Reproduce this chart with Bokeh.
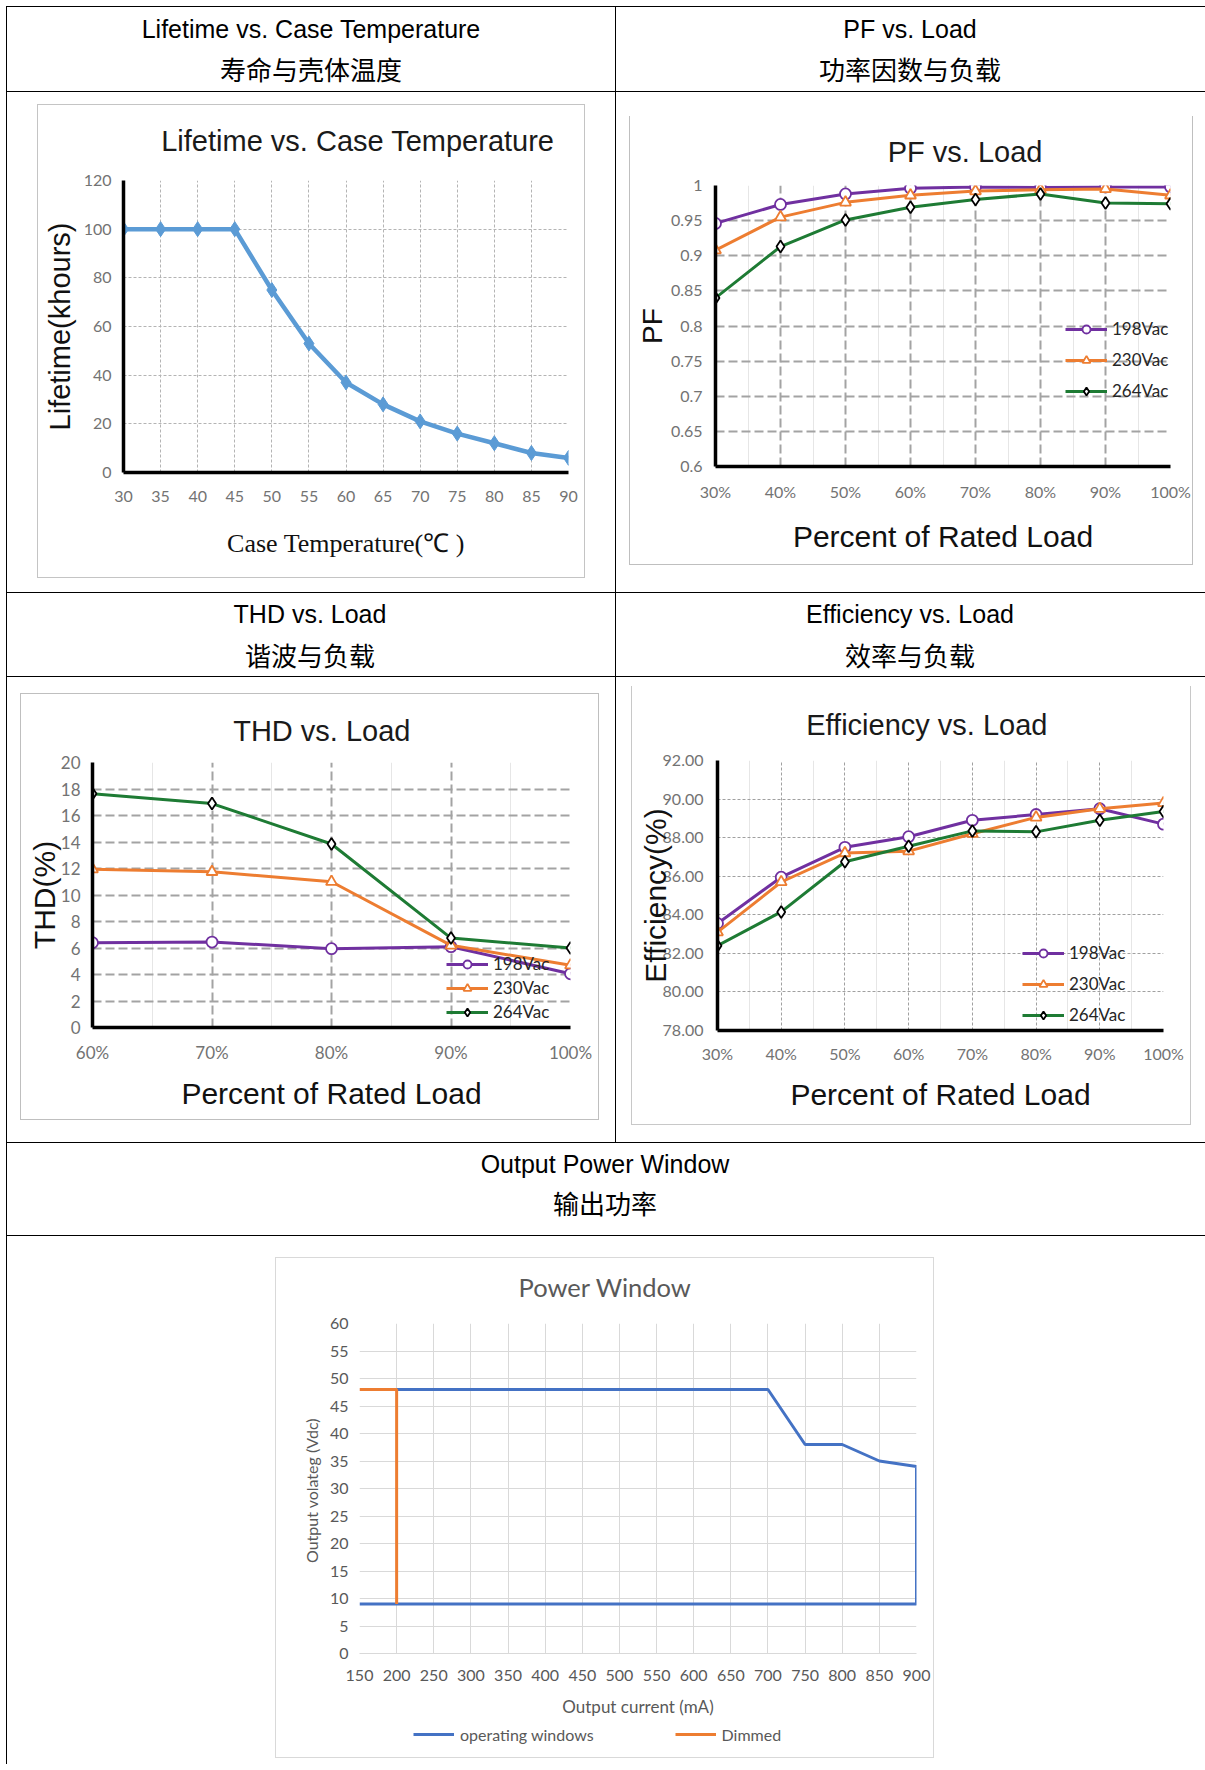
from bokeh.plotting import figure
from bokeh.models import (Range1d, FixedTicker, Legend, LegendItem, Div, Spacer, Title,
                          CustomJSTickFormatter, NumeralTickFormatter)
from bokeh.layouts import row, column
from bokeh.embed import file_html
from bokeh.resources import INLINE

# ---------------- data ----------------
case_temp = [30, 35, 40, 45, 50, 55, 60, 65, 70, 75, 80, 85, 90]
lifetime_kh = [100, 100, 100, 100, 75, 53, 37, 28, 21, 16, 12, 8, 6]
life_ticks = [0, 20, 40, 60, 80, 100, 120]

load_pct = [30, 40, 50, 60, 70, 80, 90, 100]
load_minor = [35, 45, 55, 65, 75, 85, 95]
series_names = ["198Vac", "230Vac", "264Vac"]

pf_198 = [0.946, 0.973, 0.988, 0.996, 0.998, 0.997, 0.998, 0.998]
pf_230 = [0.908, 0.955, 0.976, 0.986, 0.992, 0.994, 0.995, 0.986]
pf_264 = [0.840, 0.913, 0.951, 0.969, 0.980, 0.988, 0.975, 0.974]
pf_ticks = [0.6, 0.65, 0.7, 0.75, 0.8, 0.85, 0.9, 0.95, 1.0]

thd_load = [60, 70, 80, 90, 100]
thd_minor = [65, 75, 85, 95]
thd_198 = [6.4, 6.45, 5.95, 6.1, 4.05]
thd_230 = [11.95, 11.75, 11.0, 6.2, 4.7]
thd_264 = [17.65, 16.9, 13.85, 6.75, 6.0]
thd_ticks = [0, 2, 4, 6, 8, 10, 12, 14, 16, 18, 20]

eff_198 = [83.55, 85.95, 87.5, 88.05, 88.9, 89.2, 89.5, 88.7]
eff_230 = [83.1, 85.7, 87.2, 87.3, 88.2, 89.05, 89.5, 89.8]
eff_264 = [82.4, 84.15, 86.75, 87.55, 88.35, 88.3, 88.9, 89.35]
eff_ticks = [78, 80, 82, 84, 86, 88, 90, 92]

pw_current_ticks = [150, 200, 250, 300, 350, 400, 450, 500, 550, 600, 650, 700, 750, 800, 850, 900]
pw_voltage_ticks = [0, 5, 10, 15, 20, 25, 30, 35, 40, 45, 50, 55, 60]
op_current = [200, 700, 750, 800, 850, 900, 900, 150]
op_voltage = [48, 48, 38, 38, 35, 34, 9, 9]
dim_current = [150, 200, 200]
dim_voltage = [48, 48, 9]

PURPLE, ORANGE, GREEN = "#7030a0", "#ed7d31", "#1e7b34"
BLUE = "#4472c4"
TICK_GRAY = "#737373"
SANS = "Liberation Sans"
NUM = "Lato"


# ---------------- helpers ----------------
def bar(w, h, color="#000000"):
    return Div(text="", width=w, height=h, margin=0, styles={"background-color": color})


def spacer(w, h):
    return Spacer(width=w, height=h, margin=0)


def header(w, h, en, zh, cx, y1, y2):
    iw = 2 * cx
    html = (
        f"<div style='position:relative;width:{w}px;height:{h}px;'>"
        f"<div style='position:absolute;left:0;top:{y1 - 16}px;width:{iw}px;height:32px;line-height:32px;"
        f"text-align:center;white-space:nowrap;font-family:\"Liberation Sans\",Arial,sans-serif;"
        f"font-size:25px;color:#000;'>{en}</div>"
        f"<div style='position:absolute;left:0;top:{y2 - 17}px;width:{iw}px;height:34px;line-height:34px;"
        f"text-align:center;white-space:nowrap;font-family:\"Noto Sans CJK SC\",sans-serif;"
        f"font-size:26px;color:#000;'>{zh}</div></div>"
    )
    return Div(text=html, width=w, height=h, margin=0)


def framed(p, w, h, color="#c0c0c0", top_color=None):
    tc = color if top_color is None else top_color
    return column([bar(w, 1, tc),
                   row([bar(1, h - 2, color), p, bar(1, h - 2, color)]),
                   bar(w, 1, color)])


def cell(w, h, content, tx, ty, cw, ch):
    return column([spacer(w, ty),
                   row([spacer(tx, ch), content, spacer(w - tx - cw, ch)]),
                   spacer(w, h - ty - ch)])


def base_fig(w, h, left, top, fw, fh, xr, yr):
    iw, ih = w - 2, h - 2
    p = figure(width=iw, height=ih,
               min_border_left=left, min_border_right=iw - left - fw,
               min_border_top=top, min_border_bottom=ih - top - fh,
               x_range=Range1d(*xr), y_range=Range1d(*yr),
               toolbar_location=None, tools="", output_backend="svg")
    p.outline_line_color = None
    p.background_fill_color = "white"
    p.border_fill_color = "white"
    return p


def style_axes(p, tick_size, tick_color, axis_font, axis_size, axis_color,
               line_color, line_width, tick_font=NUM):
    for ax in (p.xaxis[0], p.yaxis[0]):
        ax.axis_line_color = line_color
        ax.axis_line_width = line_width
        ax.major_tick_line_color = None
        ax.minor_tick_line_color = None
        ax.major_tick_out = 0
        ax.major_tick_in = 0
        ax.minor_tick_out = 0
        ax.minor_tick_in = 0
        ax.major_label_text_font = tick_font
        ax.major_label_text_font_size = tick_size
        ax.major_label_text_color = tick_color
        ax.axis_label_text_font = axis_font
        ax.axis_label_text_font_size = axis_size
        ax.axis_label_text_color = axis_color
        ax.axis_label_text_font_style = "normal"


def add_title(p, text, font, size, color, align, offset, gap):
    # an invisible spacer title next to the frame lifts the real title
    p.add_layout(Title(text=" ", text_font_size="2px", text_color="white",
                       standoff=max(int(round(gap - 4)), 0)), "above")
    p.add_layout(Title(text=text, text_font=font, text_font_size=size, text_font_style="normal",
                       text_color=color, align=align, offset=offset, standoff=0), "above")


def make_legend(items, loc, spacing, size="17px", orientation="vertical", font=NUM, color="#262626",
                glyph_width=42, label_standoff=5):
    return Legend(items=items, location=loc, orientation=orientation, spacing=spacing,
                  padding=0, margin=0, border_line_color=None, background_fill_alpha=0,
                  glyph_width=glyph_width, glyph_height=20, label_height=20,
                  label_standoff=label_standoff, label_text_font=font,
                  label_text_font_size=size, label_text_color=color)


pct_fmt = CustomJSTickFormatter(code="return tick + '%'")


def load_series(p, xs, ys_list, lw=3):
    specs = [(PURPLE, "circle", PURPLE, 11), (ORANGE, "triangle", ORANGE, 11), (GREEN, "diamond", "#000000", 12)]
    items = []
    for (col, mk, edge, sz), ys, name in zip(specs, ys_list, series_names):
        ln = p.line(xs, ys, line_color=col, line_width=lw)
        sc = p.scatter(xs, ys, marker=mk, size=sz, fill_color="white", line_color=edge, line_width=1.8)
        items.append(LegendItem(label=name, renderers=[ln, sc]))
    return items


# ---------------- chart 1: lifetime ----------------
p1 = base_fig(548, 474, 85, 75, 445, 292, (30, 90), (0, 120))
style_axes(p1, "16px", TICK_GRAY, SANS, "29px", "#111111", "#000000", 3.5)
add_title(p1, "Lifetime vs. Case Temperature", SANS, "29px", "#1a1a1a", "right", 14, 23.5)
p1.xaxis.ticker = FixedTicker(ticks=case_temp)
p1.yaxis.ticker = FixedTicker(ticks=life_ticks)
p1.xaxis.axis_label = "Case Temperature(\u2103 )"
p1.xaxis.axis_label_text_font = "Liberation Serif"
p1.xaxis.axis_label_text_font_size = "26px"
p1.yaxis.axis_label = "Lifetime(khours)"
p1.xaxis.major_label_standoff = 18
p1.xaxis.axis_label_standoff = 24
p1.yaxis.major_label_standoff = 12
p1.yaxis.axis_label_standoff = 5
for g in (p1.xgrid[0], p1.ygrid[0]):
    g.grid_line_color = "#b4b4b4"
    g.grid_line_dash = "3 2"
    g.grid_line_width = 1
p1.line(case_temp, lifetime_kh, line_color="#5b9bd5", line_width=4.5)
p1.scatter(case_temp, lifetime_kh, marker="diamond", size=15, fill_color="#5b9bd5", line_color="#5b9bd5")

# ---------------- chart 2: PF ----------------
p2 = base_fig(564, 450, 85, 69, 455, 281, (30, 100), (0.6, 1.0))
style_axes(p2, "16px", TICK_GRAY, SANS, "30px", "#111111", "#000000", 3.5)
add_title(p2, "PF vs. Load", SANS, "29px", "#1a1a1a", "right", 128, 18.5)
p2.xaxis.ticker = FixedTicker(ticks=load_pct, minor_ticks=load_minor)
p2.yaxis.ticker = FixedTicker(ticks=pf_ticks)
p2.xaxis.formatter = pct_fmt
p2.yaxis.formatter = CustomJSTickFormatter(code="return String(Math.round(tick*100)/100)")
p2.xaxis.axis_label = "Percent of Rated Load"
p2.yaxis.axis_label = "PF"
p2.yaxis.axis_label_text_font_size = "28px"
p2.xaxis.major_label_standoff = 15
p2.xaxis.axis_label_standoff = 16
p2.yaxis.major_label_standoff = 13
p2.yaxis.axis_label_standoff = 0
for g in (p2.xgrid[0], p2.ygrid[0]):
    g.grid_line_color = "#a3a3a3"
    g.grid_line_dash = "9 4"
    g.grid_line_width = 2
p2.xgrid[0].minor_grid_line_color = "#e6e6e6"
it2 = load_series(p2, load_pct, [pf_198, pf_230, pf_264])
p2.add_layout(make_legend(it2, (350, 65), 10))

# ---------------- chart 3: THD ----------------
p3 = base_fig(579, 427, 71, 68, 478, 265, (60, 100), (0, 20))
style_axes(p3, "17px", TICK_GRAY, SANS, "30px", "#111111", "#000000", 3.5)
add_title(p3, "THD vs. Load", SANS, "29px", "#1a1a1a", "right", 160, 15.5)
p3.xaxis.ticker = FixedTicker(ticks=thd_load, minor_ticks=thd_minor)
p3.yaxis.ticker = FixedTicker(ticks=thd_ticks)
p3.xaxis.formatter = pct_fmt
p3.xaxis.axis_label = "Percent of Rated Load"
p3.yaxis.axis_label = "THD(%)"
p3.xaxis.major_label_standoff = 14
p3.xaxis.axis_label_standoff = 11
p3.yaxis.major_label_standoff = 12
p3.yaxis.axis_label_standoff = -3
for g in (p3.xgrid[0], p3.ygrid[0]):
    g.grid_line_color = "#a3a3a3"
    g.grid_line_dash = "9 4"
    g.grid_line_width = 2
p3.xgrid[0].minor_grid_line_color = "#e6e6e6"
it3 = load_series(p3, thd_load, [thd_198, thd_230, thd_264])
p3.add_layout(make_legend(it3, (354, 5), 3))

# ---------------- chart 4: efficiency ----------------
p4 = base_fig(560, 440, 85, 74, 446, 270, (30, 100), (78, 92))
style_axes(p4, "16px", TICK_GRAY, SANS, "30px", "#111111", "#000000", 3.5)
add_title(p4, "Efficiency vs. Load", SANS, "29px", "#1a1a1a", "right", 116, 19.5)
p4.xaxis.ticker = FixedTicker(ticks=load_pct, minor_ticks=load_minor)
p4.yaxis.ticker = FixedTicker(ticks=eff_ticks)
p4.xaxis.formatter = pct_fmt
p4.yaxis.formatter = NumeralTickFormatter(format="0.00")
p4.xaxis.axis_label = "Percent of Rated Load"
p4.yaxis.axis_label = "Efficiency(%)"
p4.xaxis.major_label_standoff = 13
p4.xaxis.axis_label_standoff = 12
p4.yaxis.major_label_standoff = 14
p4.yaxis.axis_label_standoff = -12
for g in (p4.xgrid[0], p4.ygrid[0]):
    g.grid_line_color = "#a0a0a0"
    g.grid_line_dash = "3 2"
    g.grid_line_width = 1
p4.xgrid[0].minor_grid_line_color = "#e6e6e6"
it4 = load_series(p4, load_pct, [eff_198, eff_230, eff_264])
p4.add_layout(make_legend(it4, (305, 5), 10))

# ---------------- chart 5: power window ----------------
P5W, P5H, LEGH = 659, 501, 35
p5 = base_fig(P5W, P5H - LEGH, 83, 65, 557, 330, (150, 900), (0, 60))
style_axes(p5, "16px", "#595959", NUM, "17px", "#595959", "#d9d9d9", 1)
p5.yaxis.axis_line_color = None
p5.yaxis.axis_label_text_font_size = "16px"
add_title(p5, "Power Window", NUM, "25.5px", "#595959", "left", 159, 22.5)
p5.xaxis.ticker = FixedTicker(ticks=pw_current_ticks)
p5.yaxis.ticker = FixedTicker(ticks=pw_voltage_ticks)
p5.xaxis.axis_label = "Output current (mA)"
p5.yaxis.axis_label = "Output  volateg (Vdc)"
p5.xaxis.major_label_standoff = 16
p5.xaxis.axis_label_standoff = 12
p5.yaxis.major_label_standoff = 11
p5.yaxis.axis_label_standoff = 6
for g in (p5.xgrid[0], p5.ygrid[0]):
    g.grid_line_color = "#d9d9d9"
    g.grid_line_width = 1
p5.line(op_current, op_voltage, line_color=BLUE, line_width=3)
p5.line(dim_current, dim_voltage, line_color=ORANGE, line_width=3)

# legend strip under the power-window plot (its lines fall outside this strip's ranges)
leg5 = figure(width=P5W - 2, height=LEGH, min_border=0, x_axis_location=None, y_axis_location=None,
              x_range=Range1d(0, 1), y_range=Range1d(0, 1),
              toolbar_location=None, tools="", output_backend="svg")
leg5.outline_line_color = None
leg5.grid.visible = False
op_l = leg5.line(op_current, op_voltage, line_color=BLUE, line_width=3)
dm_l = leg5.line(dim_current, dim_voltage, line_color=ORANGE, line_width=3)
leg5.add_layout(make_legend([LegendItem(label="operating windows", renderers=[op_l]),
                             LegendItem(label="Dimmed", renderers=[dm_l])],
                            (54, 13), 81, size="16px", orientation="horizontal", color="#595959",
                            glyph_width=41, label_standoff=6))
p5_block = column([p5, leg5])

# ---------------- table layout ----------------
LW, RW, FW = 608, 589, 1198
TW = 1 + LW + 1 + RW
H1, C1, H2, C2, H3, C3 = 84, 500, 83, 465, 92, 528

table = column([
    bar(TW, 1),
    row([bar(1, H1), header(LW, H1, "Lifetime vs. Case Temperature", "寿命与壳体温度", 304, 22, 62),
         bar(1, H1), header(RW, H1, "PF vs. Load", "功率因数与负载", 294, 22, 62)]),
    bar(TW, 1),
    row([bar(1, C1), cell(LW, C1, framed(p1, 548, 474, "#c4c4c4"), 30, 12, 548, 474),
         bar(1, C1), cell(RW, C1, framed(p2, 564, 450, "#bfbfbf", "#ffffff"), 13, 23, 564, 450)]),
    bar(TW, 1),
    row([bar(1, H2), header(LW, H2, "THD vs. Load", "谐波与负载", 303, 21, 62),
         bar(1, H2), header(RW, H2, "Efficiency vs. Load", "效率与负载", 294, 21, 62)]),
    bar(TW, 1),
    row([bar(1, C2), cell(LW, C2, framed(p3, 579, 427, "#bfbfbf"), 13, 16, 579, 427),
         bar(1, C2), cell(RW, C2, framed(p4, 560, 440, "#c8c8c8", "#ffffff"), 15, 8, 560, 440)]),
    bar(TW, 1),
    row([bar(1, H3), header(FW, H3, "Output Power Window", "输出功率", 598, 21, 60)]),
    bar(TW, 1),
    row([bar(1, C3), cell(FW, C3, framed(p5_block, P5W, P5H, "#d9d9d9"), 268, 21, P5W, P5H)]),
])

page = column([spacer(6 + TW, 6), row([spacer(6, 1230 + C3), table])])

open("out.html", "w").write(file_html(page, INLINE, "Charts"))
